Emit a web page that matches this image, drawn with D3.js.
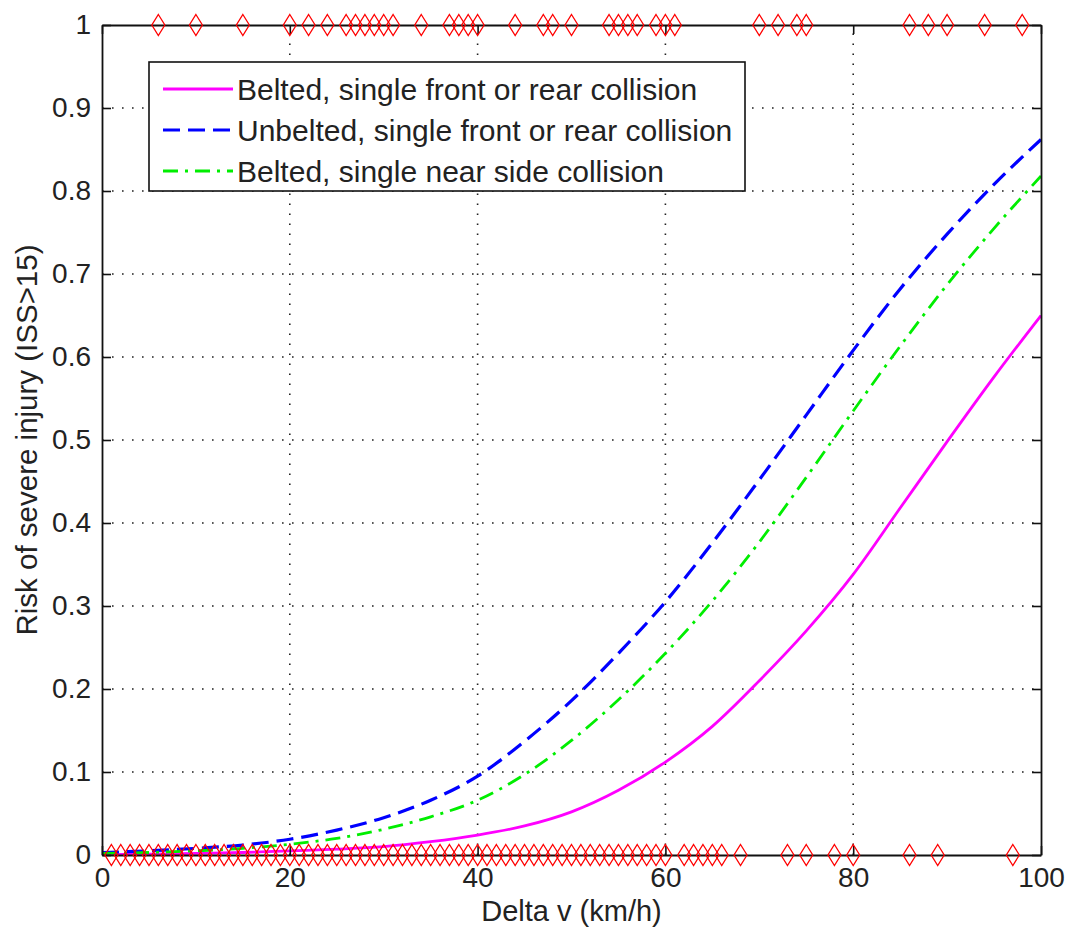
<!DOCTYPE html>
<html>
<head>
<meta charset="utf-8">
<script src="https://cdn.jsdelivr.net/npm/d3@7"></script>
<style>
  html, body { margin: 0; padding: 0; background: #fff; }
  svg { display: block; }
  text { font-family: "Liberation Sans", Arial, sans-serif; fill: #222; }
</style>
</head>
<body>
<svg id="chart" width="1067" height="934"></svg>
<script>
// Delta v sample grid (km/h) for the risk curves
const deltaV = [0, 5, 10, 15, 20, 25, 30, 35, 40, 45, 50, 55, 60, 65, 70, 75, 80, 85, 90, 95, 100];

// Risk of severe injury for each scenario
const beltedFrontRear = [0.0005, 0.001, 0.002, 0.003, 0.005, 0.007, 0.010, 0.016, 0.024, 0.035, 0.052, 0.078, 0.112, 0.155, 0.210, 0.270, 0.338, 0.418, 0.498, 0.576, 0.650];
const unbeltedFrontRear = [0.003, 0.005, 0.008, 0.012, 0.019, 0.030, 0.045, 0.066, 0.095, 0.137, 0.186, 0.243, 0.305, 0.376, 0.452, 0.530, 0.608, 0.682, 0.748, 0.808, 0.862];
const beltedNearSide = [0.002, 0.003, 0.005, 0.008, 0.013, 0.020, 0.031, 0.046, 0.066, 0.097, 0.138, 0.187, 0.243, 0.306, 0.377, 0.455, 0.535, 0.613, 0.687, 0.755, 0.818];

// Observed cases: injured (risk = 1) and not injured (risk = 0)
const injuredDeltaV = [6, 10, 15, 20, 22, 24, 26, 27, 28, 29, 30, 31, 34, 37, 38, 39, 40, 44, 47, 48, 50, 54, 55, 56, 57, 59, 60, 61, 70, 72, 74, 75, 86, 88, 90, 94, 98];
const uninjuredDeltaV = [1, 2, 3, 4, 5, 6, 7, 8, 9, 10, 11, 12, 13, 14, 15, 16, 17, 18, 19, 20,
  21, 22, 23, 24, 25, 26, 27, 28, 29, 30, 31, 32, 33, 34, 35, 36, 37, 38, 39, 40,
  41, 42, 43, 44, 45, 46, 47, 48, 49, 50, 51, 52, 53, 54, 55, 56, 57, 58, 59, 60,
  62, 63, 64, 65, 66, 68, 73, 75, 78, 80, 86, 89, 97];

// Axis ticks
const xTicks = [0, 20, 40, 60, 80, 100];
const yTicks = [0, 0.1, 0.2, 0.3, 0.4, 0.5, 0.6, 0.7, 0.8, 0.9, 1];

const seriesNames = [
  "Belted, single front or rear collision",
  "Unbelted, single front or rear collision",
  "Belted, single near side collision"
];

const svg = d3.select("#chart");
const plot = { left: 102, right: 1041, top: 25, bottom: 855 };

const x = d3.scaleLinear().domain([0, 100]).range([plot.left, plot.right]);
const y = d3.scaleLinear().domain([0, 1]).range([plot.bottom, plot.top]);

const series = [
  { name: seriesNames[0], values: beltedFrontRear, color: "#ff00ff", dash: null, width: 2.8 },
  { name: seriesNames[1], values: unbeltedFrontRear, color: "#0000ff", dash: "17,8", width: 3.2 },
  { name: seriesNames[2], values: beltedNearSide, color: "#00ee00", dash: "15,7,3,7", width: 2.8 }
];

// Dotted grid
const grid = svg.append("g").attr("stroke", "#222").attr("stroke-width", 1.6).attr("stroke-dasharray", "1.6,8.4");
grid.selectAll("line.gx").data(xTicks.slice(1, -1)).join("line")
  .attr("x1", d => x(d)).attr("x2", d => x(d))
  .attr("y1", plot.bottom).attr("y2", plot.top);
grid.selectAll("line.gy").data(yTicks.slice(1, -1)).join("line")
  .attr("y1", d => y(d)).attr("y2", d => y(d))
  .attr("x1", plot.left).attr("x2", plot.right);

// Risk curves
const line = d3.line().x(d => x(d[0])).y(d => y(d[1])).curve(d3.curveMonotoneX);
series.forEach(s => {
  svg.append("path")
    .datum(deltaV.map((v, i) => [v, s.values[i]]))
    .attr("d", line)
    .attr("fill", "none")
    .attr("stroke", s.color)
    .attr("stroke-width", s.width)
    .attr("stroke-dasharray", s.dash);
});

// Axes box with inward ticks on all sides
const tickLen = 9;
const axes = svg.append("g");
const ax = (axis, tx, ty) => axes.append("g")
  .attr("transform", `translate(${tx},${ty})`)
  .call(axis)
  .attr("font-size", 28)
  .attr("font-family", "Liberation Sans, Arial, sans-serif");

ax(d3.axisBottom(x).tickValues(xTicks).tickFormat(d3.format("d")).tickSizeInner(-tickLen).tickSizeOuter(0).tickPadding(12), 0, plot.bottom);
ax(d3.axisTop(x).tickValues(xTicks).tickFormat("").tickSizeInner(-tickLen).tickSizeOuter(0), 0, plot.top);
ax(d3.axisLeft(y).tickValues(yTicks).tickFormat(d => d3.format("")(d)).tickSizeInner(-tickLen).tickSizeOuter(0).tickPadding(11), plot.left, 0);
ax(d3.axisRight(y).tickValues(yTicks).tickFormat("").tickSizeInner(-tickLen).tickSizeOuter(0), plot.right, 0);

axes.selectAll(".domain").attr("stroke", "#111").attr("stroke-width", 1.8);
axes.selectAll(".tick line").attr("stroke", "#111").attr("stroke-width", 1.6);
axes.selectAll(".tick text").attr("fill", "#222");

// Observation markers (diamonds)
const diamond = "M0,-10.5L6.5,0L0,10.5L-6.5,0Z";
const markers = svg.append("g").attr("fill", "none").attr("stroke", "#ff0000").attr("stroke-width", 1.3);
markers.selectAll("path.inj").data(injuredDeltaV).join("path")
  .attr("d", diamond).attr("transform", d => `translate(${x(d)},${y(1)})`);
markers.selectAll("path.uninj").data(uninjuredDeltaV).join("path")
  .attr("d", diamond).attr("transform", d => `translate(${x(d)},${y(0)})`);

// Legend
const legend = svg.append("g");
legend.append("rect")
  .attr("x", 149).attr("y", 62).attr("width", 596).attr("height", 129)
  .attr("fill", "#fff").attr("stroke", "#111").attr("stroke-width", 1.6);
series.forEach((s, i) => {
  const ly = 89 + i * 41;
  legend.append("line")
    .attr("x1", 163).attr("x2", 233).attr("y1", ly).attr("y2", ly)
    .attr("stroke", s.color).attr("stroke-width", s.width)
    .attr("stroke-dasharray", s.dash);
  legend.append("text")
    .attr("x", 237).attr("y", ly).attr("dy", "0.36em")
    .attr("font-size", 30)
    .text(s.name);
});

// Axis titles
svg.append("text")
  .attr("x", x(50)).attr("y", 921)
  .attr("text-anchor", "middle").attr("font-size", 29)
  .text("Delta v (km/h)");
svg.append("text")
  .attr("transform", `translate(37,${y(0.5)}) rotate(-90)`)
  .attr("text-anchor", "middle").attr("font-size", 29.5)
  .text("Risk of severe injury (ISS>15)");
</script>
</body>
</html>
